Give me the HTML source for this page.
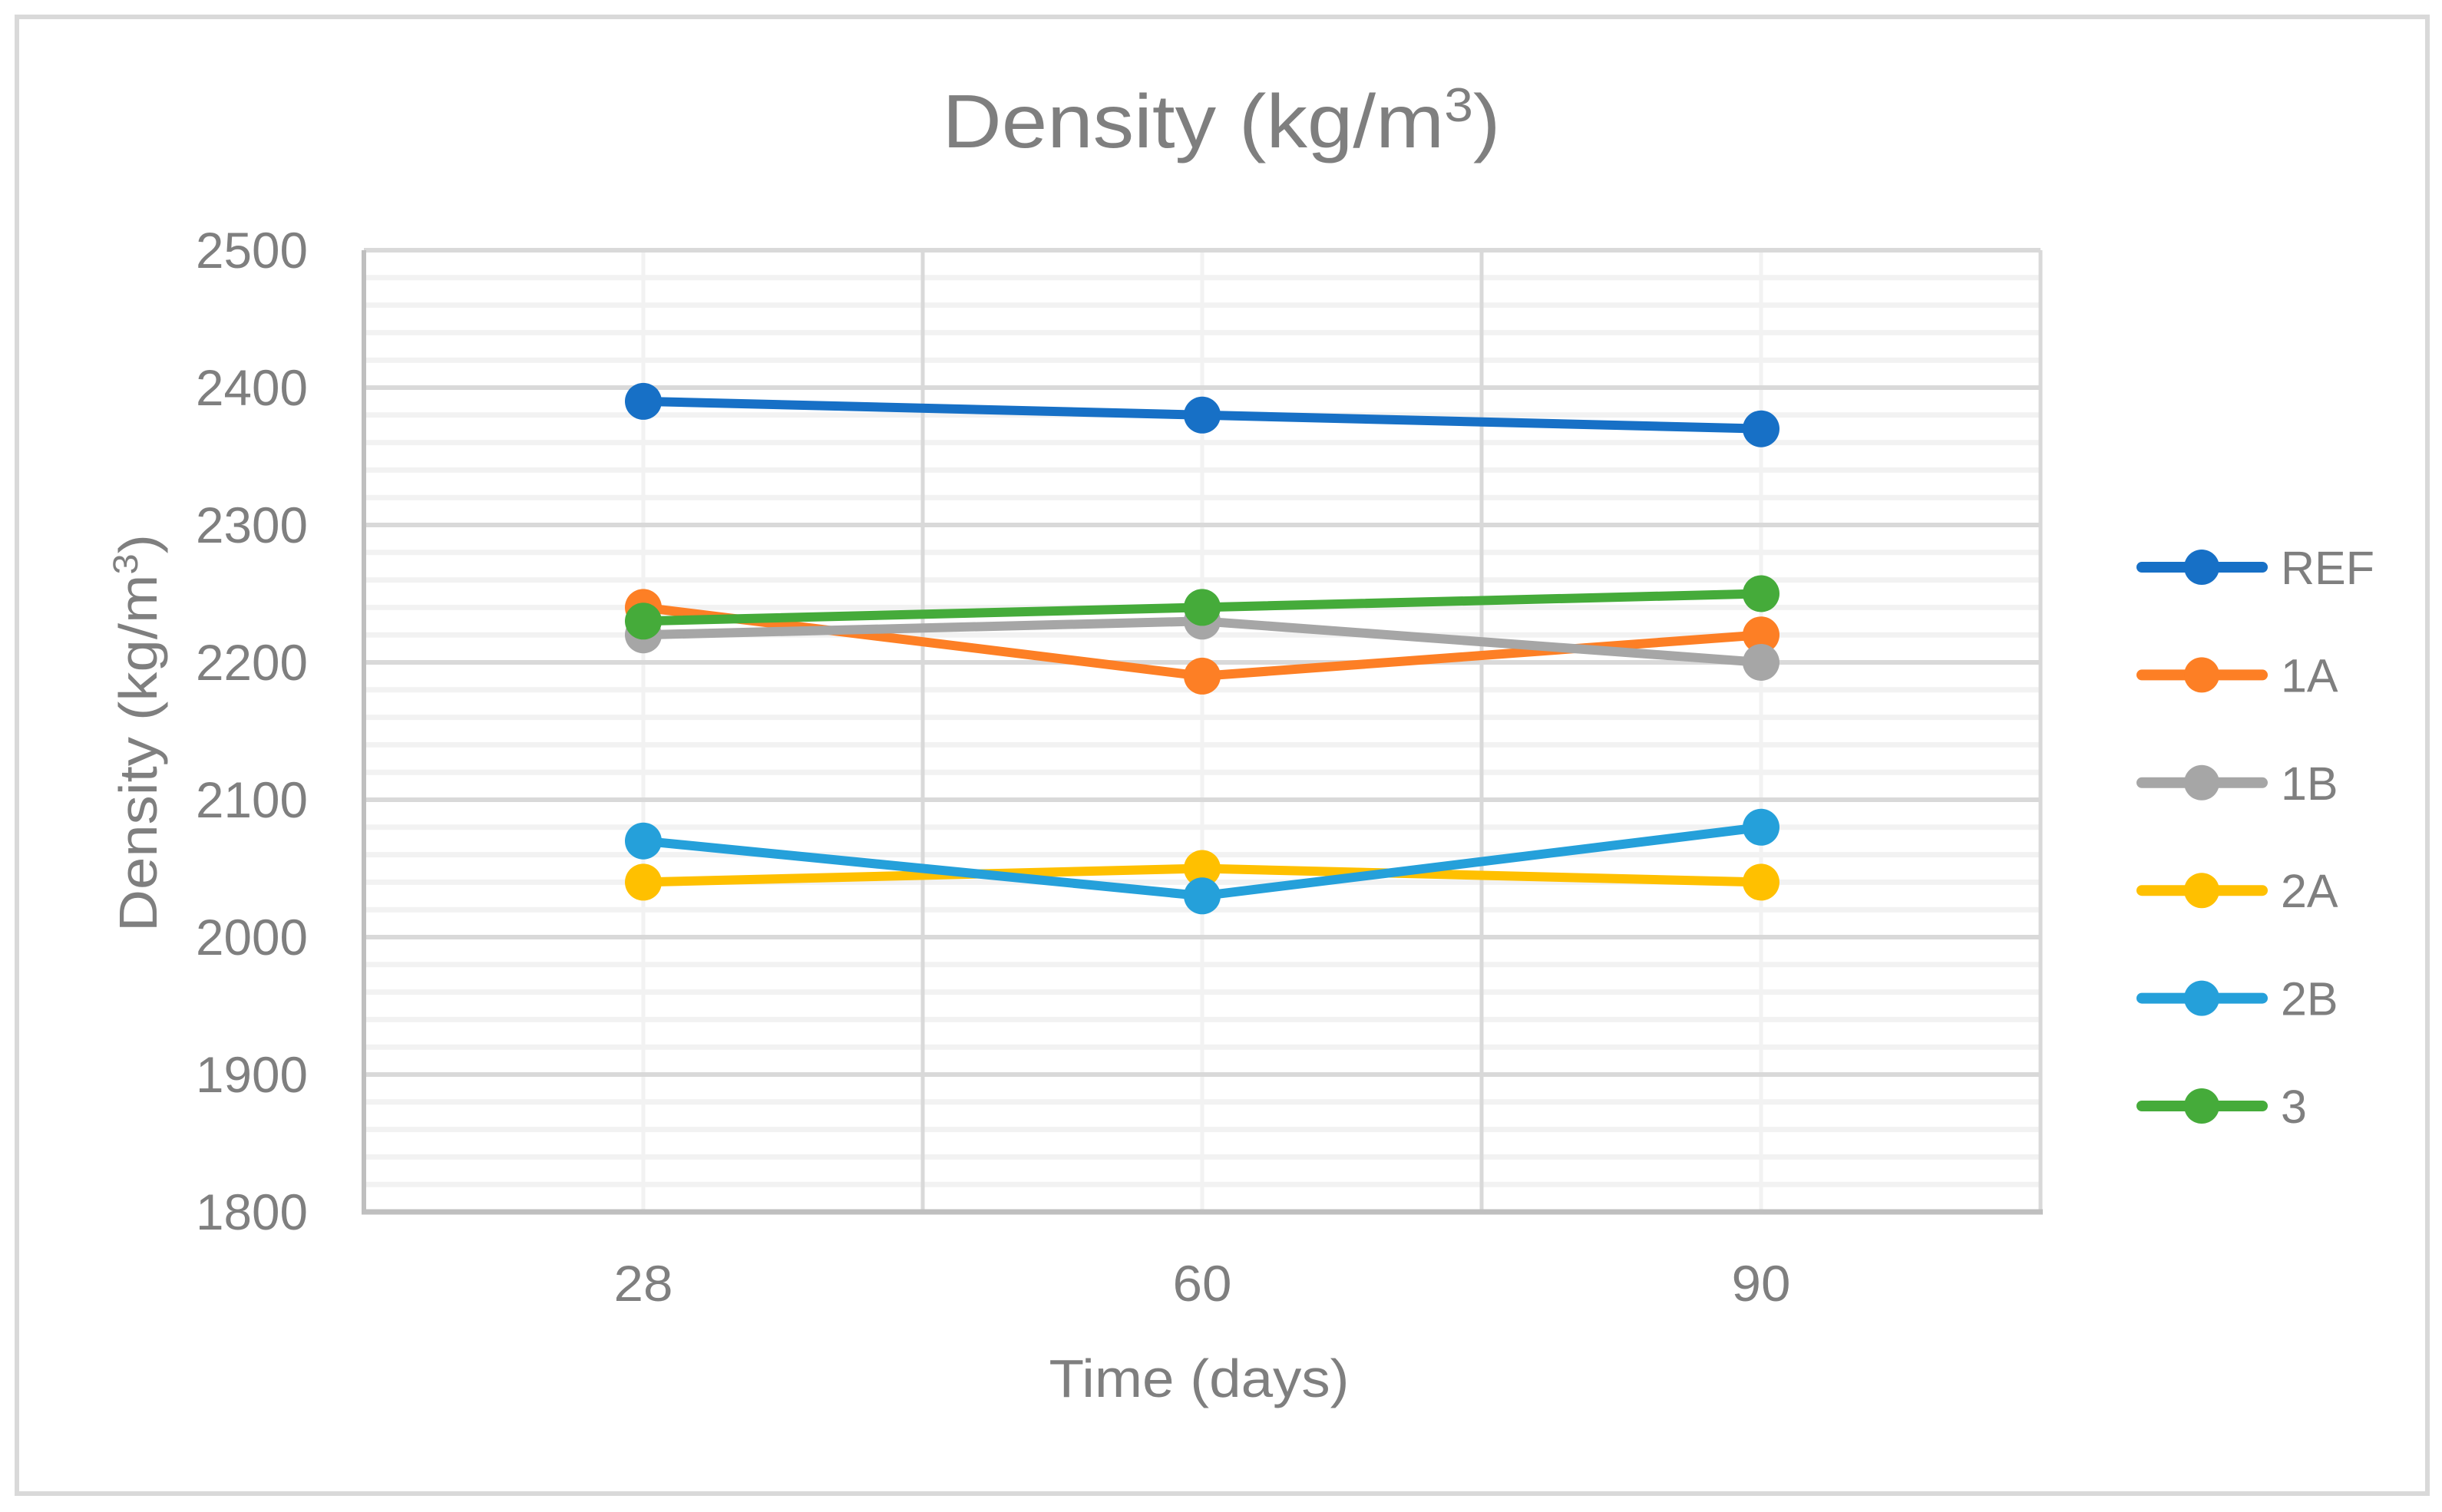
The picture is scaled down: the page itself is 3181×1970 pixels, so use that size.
<!DOCTYPE html>
<html><head><meta charset="utf-8"><style>
html,body{margin:0;padding:0;background:#fff;}
svg{display:block;font-family:"Liberation Sans",sans-serif;}
</style></head><body>
<svg id="chart" width="3181" height="1970" viewBox="0 0 3181 1970" xmlns="http://www.w3.org/2000/svg">
<rect x="22" y="22" width="3140" height="1924" fill="#fff" stroke="#d9d9d9" stroke-width="6"/>
<text x="1591" y="192" text-anchor="middle" font-size="98" fill="#7f7f7f" textLength="727" lengthAdjust="spacingAndGlyphs">Density (kg/m<tspan baseline-shift="super" font-size="62">3</tspan>)</text>
<g id="grid"></g>
<g id="axes"></g>
<g id="series"></g>
<g id="legend"></g>
<text x="1562" y="1820" text-anchor="middle" font-size="70" fill="#7f7f7f" textLength="391" lengthAdjust="spacingAndGlyphs">Time (days)</text>
<text transform="translate(204,955) rotate(-90)" text-anchor="middle" font-size="70" fill="#7f7f7f" textLength="518" lengthAdjust="spacingAndGlyphs">Density (kg/m<tspan baseline-shift="super" font-size="45">3</tspan>)</text>
</svg>
<script>
const categories = ["28", "60", "90"];
const yTicks = [1800, 1900, 2000, 2100, 2200, 2300, 2400, 2500];
const seriesNames = ["REF", "1A", "1B", "2A", "2B", "3"];
const seriesColors = ["#1770c6", "#fd7f25", "#a6a6a6", "#ffc000", "#25a0da", "#45ab3a"];
const refValues = [2390, 2380, 2370];
const a1Values = [2240, 2190, 2220];
const b1Values = [2220, 2230, 2200];
const a2Values = [2040, 2050, 2040];
const b2Values = [2070, 2030, 2080];
const s3Values = [2230, 2240, 2250];
const allSeries = [refValues, a1Values, b1Values, a2Values, b2Values, s3Values];

const NS = "http://www.w3.org/2000/svg";
const L = 474, R = 2658, T = 326, B = 1579;
const yMin = 1800, yMax = 2500;
const y = v => B - (v - yMin) / (yMax - yMin) * (B - T);
const band = (R - L) / categories.length;
const x = i => L + band * (i + 0.5);
function mk(tag, attrs, parent) {
  const e = document.createElementNS(NS, tag);
  for (const k in attrs) e.setAttribute(k, attrs[k]);
  parent.appendChild(e);
  return e;
}
const grid = document.getElementById("grid");
const axes = document.getElementById("axes");
const series = document.getElementById("series");
const legend = document.getElementById("legend");

for (let v = yMin + 20; v < yMax; v += 20) {
  if (v % 100 === 0) continue;
  const g = mk("line", {x1: L, x2: R, y1: y(v), y2: y(v), stroke: "#f2f2f2", "stroke-width": 7}, grid);
  
  
}
categories.forEach((c, i) => {
  const g = mk("line", {x1: x(i), x2: x(i), y1: T, y2: B, stroke: "#f2f2f2", "stroke-width": 5}, grid);
  
  
});
yTicks.forEach(v => {
  if (v === yMin) return;
  const g = mk("line", {x1: L, x2: R, y1: y(v), y2: y(v), stroke: "#d9d9d9", "stroke-width": 6}, grid);
  
  
});
for (let i = 1; i <= categories.length; i++) {
  const xx = L + band * i;
  const g = mk("line", {x1: xx, x2: xx, y1: T, y2: B, stroke: "#d9d9d9", "stroke-width": 5}, grid);
  
  
}
const ya = mk("line", {x1: L, x2: L, y1: T, y2: B, stroke: "#bfbfbf", "stroke-width": 6}, axes);


const xa = mk("line", {x1: L - 3, x2: R + 3, y1: B, y2: B, stroke: "#bfbfbf", "stroke-width": 7}, axes);


yTicks.forEach(v => {
  const t = mk("text", {x: 401, y: y(v) + 23, "text-anchor": "end", "font-size": 66, fill: "#7f7f7f", textLength: 146, lengthAdjust: "spacingAndGlyphs"}, axes);
  t.textContent = v;
  
  
});
categories.forEach((c, i) => {
  const t = mk("text", {x: x(i), y: 1695, "text-anchor": "middle", "font-size": 66, fill: "#7f7f7f", textLength: 77, lengthAdjust: "spacingAndGlyphs"}, axes);
  t.textContent = c;
  
  
});
allSeries.forEach((vals, s) => {
  const g = mk("g", {}, series);
  
  
  const pts = vals.map((v, i) => x(i) + "," + y(v)).join(" ");
  const pl = mk("polyline", {points: pts, fill: "none", stroke: seriesColors[s], "stroke-width": 12, "stroke-linecap": "round", "stroke-linejoin": "round"}, g);
  
  
  vals.forEach((v, i) => {
    const c = mk("circle", {cx: x(i), cy: y(v), r: 24, fill: seriesColors[s]}, g);
    
    
  });
});
seriesNames.forEach((n, s) => {
  const ly = 739 + s * 140.4;
  const g = mk("g", {}, legend);
  
  
  mk("line", {x1: 2790, x2: 2947, y1: ly, y2: ly, stroke: seriesColors[s], "stroke-width": 14, "stroke-linecap": "round"}, g);
  mk("circle", {cx: 2868, cy: ly, r: 23, fill: seriesColors[s]}, g);
  const t = mk("text", {x: 2971, y: ly + 22, "font-size": 61, fill: "#7f7f7f"}, g);
  t.textContent = n;
  
  
});
</script>
</body></html>
